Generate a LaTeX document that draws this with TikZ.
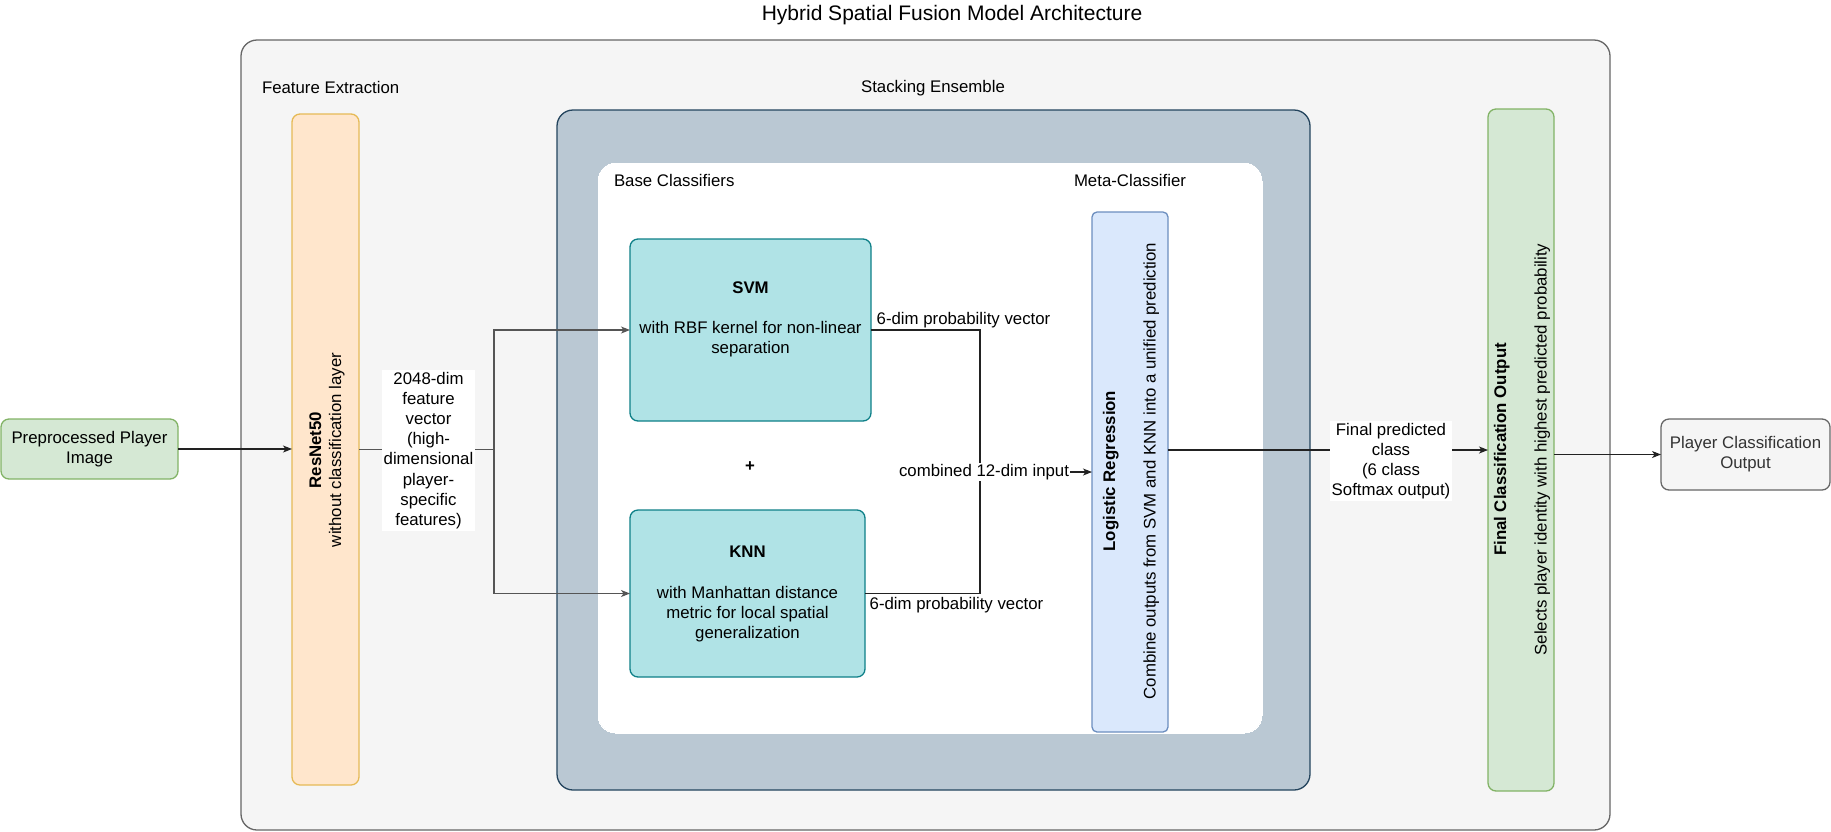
\documentclass[tikz,border=0pt]{standalone}
\usepackage{fontspec}
\setmainfont{Liberation Sans}
\usetikzlibrary{arrows.meta}
\definecolor{greyfill}{HTML}{F5F5F5}
\definecolor{greyline}{HTML}{666666}
\definecolor{greytext}{HTML}{333333}
\definecolor{orangefill}{HTML}{FFE6CC}
\definecolor{orangeline}{HTML}{E6BA56}
\definecolor{stackfill}{HTML}{BAC8D3}
\definecolor{stackline}{HTML}{23445D}
\definecolor{tealfill}{HTML}{B0E3E6}
\definecolor{tealline}{HTML}{0E8088}
\definecolor{bluefill}{HTML}{DAE8FC}
\definecolor{blueline}{HTML}{6C8EBF}
\definecolor{greenfill}{HTML}{D5E8D4}
\definecolor{greenline}{HTML}{82B366}
\definecolor{edgecol}{HTML}{222222}
\definecolor{splitcol}{HTML}{555555}
\begin{document}
\begin{tikzpicture}[x=1pt,y=-1pt,
  every node/.style={inner sep=0pt,outer sep=0pt,font=\fontsize{16.8}{20.2}\selectfont},
  box/.style={draw,line width=1.3pt,rounded corners=8pt},
  container/.style={draw,line width=1.3pt,rounded corners=16pt},
  txt/.style={align=center,text=black},
  rtxt/.style={align=center,text=black,rotate=90},
  edgelabel/.style={align=center,fill=white,inner sep=1.5pt,text=black},
  plainlabel/.style={align=center,text=black},
  conn/.style={draw=edgecol,line width=1.1pt},
  arr/.style={conn,-{Stealth[length=9pt,width=7pt,inset=2.5pt]}},
  splitconn/.style={conn,draw=splitcol}
]
\useasboundingbox (0,0) rectangle (1831,831);

% title
\node[txt,font=\fontsize{21}{25}\selectfont] (title) at (952,15) {Hybrid Spatial Fusion Model Architecture};

% containers
\node[container,draw=greyline,fill=greyfill,minimum width=1369pt,minimum height=790pt] (outer) at (925.5,435) {};
\node[txt,anchor=west] (fe) at (262,87) {Feature Extraction};
\node[txt] (se) at (933,88) {Stacking Ensemble};
\node[container,draw=stackline,fill=stackfill,minimum width=753pt,minimum height=680pt] (stack) at (933.5,450) {};
\node[container,draw=white,fill=white,line width=0pt,minimum width=664pt,minimum height=570pt,rounded corners=18pt] (inner) at (930,448) {};
\node[txt,anchor=west] (bc) at (614,180) {Base Classifiers};
\node[txt] (mc) at (1130,180) {Meta-Classifier};

% input
\node[box,draw=greenline,fill=greenfill,minimum width=177pt,minimum height=60pt] (pre) at (89.5,449) {};
\node[txt] (pretext) at (pre.center) {Preprocessed Player\\Image};

% ResNet
\node[box,draw=orangeline,fill=orangefill,minimum width=67pt,minimum height=671pt] (resnet) at (325.5,449.5) {};
\node[rtxt] (resnettext) at (327,450) {\textbf{ResNet50}\\without classification layer};

% SVM / KNN
\node[box,draw=tealline,fill=tealfill,minimum width=241pt,minimum height=182pt] (svm) at (750.5,330) {};
\node[txt] (svmtext) at (750.5,319.5) {\textbf{SVM}\\[20.2pt]with RBF kernel for non-linear\\separation};
\node[box,draw=tealline,fill=tealfill,minimum width=235pt,minimum height=167pt] (knn) at (747.5,593.5) {};
\node[txt] (knntext) at (747.5,594) {\textbf{KNN}\\[20.2pt]with Manhattan distance\\metric for local spatial\\generalization};
\node[txt,font=\bfseries\fontsize{16.8}{20.2}\selectfont] (plus) at (750,467) {+};

% Logistic regression
\node[box,draw=blueline,fill=bluefill,rounded corners=5pt,minimum width=76pt,minimum height=520pt] (lr) at (1130,472) {};
\node[rtxt] (lrtext) at (1131,471) {\textbf{Logistic Regression}\\[20.2pt]Combine outputs from SVM and KNN into a unified prediction};

% Final
\node[box,draw=greenline,fill=greenfill,minimum width=66pt,minimum height=682pt] (final) at (1521,450) {};
\node[rtxt] (finaltext) at (1522,449.5) {\textbf{Final Classification Output}\\[20.2pt]Selects player identity with highest predicted probability};

% Output
\node[box,draw=greyline,fill=greyfill,minimum width=169pt,minimum height=71pt] (player) at (1745.5,454.5) {};
\node[txt,text=greytext] (playertext) at (player.center) {Player Classification\\Output};

% connectors
\draw[arr] (pre.east) -- (resnet.west |- pre.east);
\coordinate (split) at (494,449.5);
\draw[splitconn] (resnet.east) -- (split);
\draw[arr,splitconn] (split) |- (svm.west);
\draw[arr,splitconn] (split) |- (knn.west);
\node[edgelabel] (featlabel) at (428.5,450.5) {2048-dim\\feature\\vector\\(high-\\dimensional\\player-\\specific\\features)};

\coordinate (merge) at (980,472);
\draw[conn] (svm.east) -| (merge);
\draw[conn] (knn.east) -| (merge);
\draw[arr] (merge) -- (lr.west);
\node[plainlabel] (svmlabel) at (963.5,320) {6-dim probability vector};
\node[plainlabel] (knnlabel) at (956.5,605) {6-dim probability vector};
\node[edgelabel] (comblabel) at (984,472) {combined 12-dim input};

\draw[arr] (lr.east |- final.west) -- (final.west);
\node[edgelabel] (finallabel) at (1391,461) {Final predicted\\class\\(6 class\\Softmax output)};

\draw[arr] (final.east |- player.west) -- (player.west);
\end{tikzpicture}
\end{document}
